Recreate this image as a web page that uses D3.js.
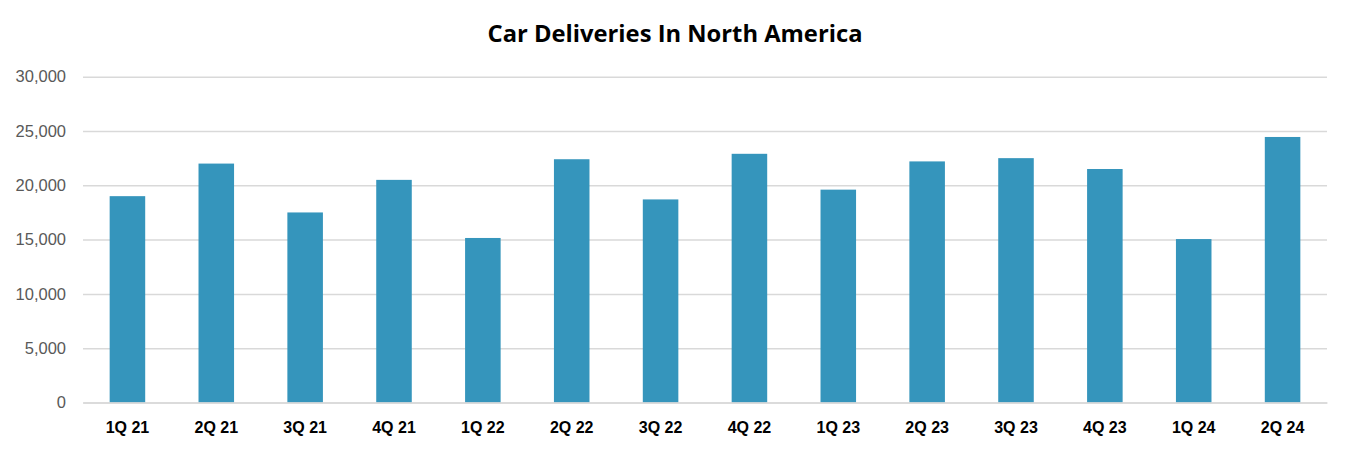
<!DOCTYPE html>
<html><head><meta charset="utf-8">
<script src="https://cdn.jsdelivr.net/npm/d3@7"></script>
<style>body{margin:0;background:#fff}svg{display:block}</style>
</head><body><svg id="c" width="1350" height="451"></svg>
<script>
const categories = ["1Q 21","2Q 21","3Q 21","4Q 21","1Q 22","2Q 22","3Q 22","4Q 22","1Q 23","2Q 23","3Q 23","4Q 23","1Q 24","2Q 24"];
const deliveries = [19000,22000,17500,20500,15150,22400,18700,22900,19600,22200,22500,21500,15050,24450];
const yTicks = [0,5000,10000,15000,20000,25000,30000];
const title = "Car Deliveries In North America";

const svg = d3.select("#c");
const m = {left:83, right:1327, top:76.7, bottom:402.5};
const x = d3.scaleBand().domain(categories).range([m.left, m.right]).paddingInner(0.6).paddingOuter(0.3);
const y = d3.scaleLinear().domain([0,30000]).range([m.bottom, m.top]);

const t = svg.append("text").attr("x",675).attr("y",42).attr("text-anchor","middle")
  .style("font-family","'Open Sans', Roboto, sans-serif").style("font-weight","bold")
  .style("font-size","22.5px").attr("fill","#000").text(title);
// fit to reference title width
t.attr("textLength",375).attr("lengthAdjust","spacingAndGlyphs");

const yAxis = svg.append("g").attr("transform",`translate(${m.left},0)`)
  .call(d3.axisLeft(y).tickValues(yTicks).tickFormat(d3.format(",")).tickSize(-(m.right-m.left)).tickPadding(17));
yAxis.select(".domain").remove();
yAxis.selectAll(".tick line").attr("stroke","#d9d9d9").attr("stroke-width",1.5);
yAxis.selectAll(".tick text").attr("fill","#595959")
  .style("font-family","'Liberation Sans', Arial, sans-serif").style("font-size","16.5px");

svg.append("g").selectAll("rect").data(deliveries).join("rect")
  .attr("x",(d,i)=>x(categories[i])).attr("width",x.bandwidth())
  .attr("y",d=>y(d)).attr("height",d=>y(0)-y(d)).attr("fill","#3595bc");

const xAxis = svg.append("g").attr("transform",`translate(0,${m.bottom})`)
  .call(d3.axisBottom(x).tickSize(0).tickPadding(19));
xAxis.select(".domain").attr("stroke","#d9d9d9").attr("stroke-width",1.5);
xAxis.selectAll(".tick text").attr("fill","#000")
  .style("font-family","'Liberation Sans Narrow', 'Liberation Sans', sans-serif").style("font-weight","bold").style("font-size","16px");
</script></body></html>
